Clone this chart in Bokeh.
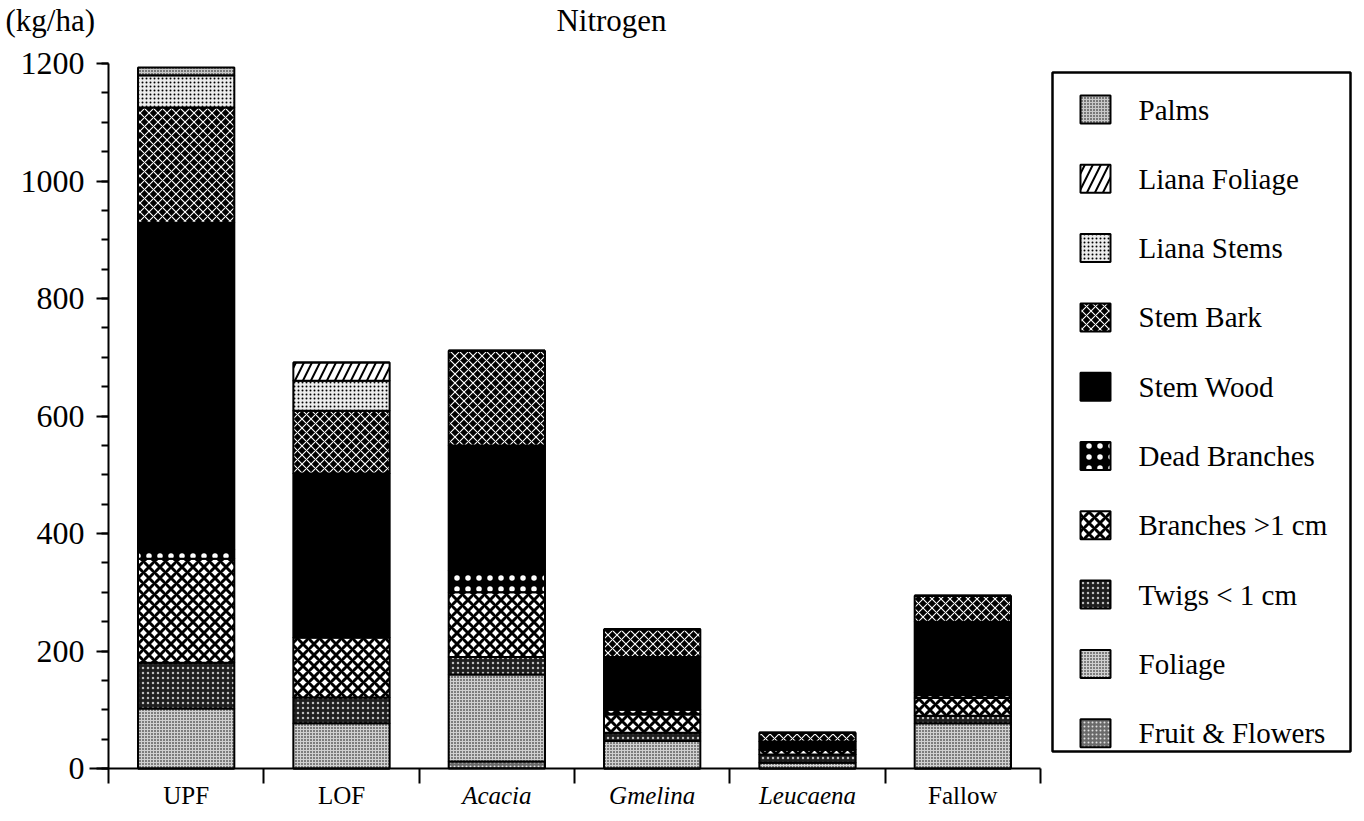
from bokeh.plotting import figure
from bokeh.models import (ColumnDataSource, Range1d, LinearAxis,
                          FixedTicker, SingleIntervalTicker)
from bokeh.layouts import row
from bokeh.core.properties import value
from bokeh.embed import file_html
from bokeh.resources import INLINE

# Nitrogen stocks (kg/ha) by component, per site
categories = ["UPF", "LOF", "Acacia", "Gmelina", "Leucaena", "Fallow"]
italic_names = ["Acacia", "Gmelina", "Leucaena"]

fruit_flowers  = [0,   0,   12,  0,  0,  0]
foliage        = [102, 77,  148, 47, 10, 77]
twigs          = [78,  44,  30,  14, 14, 13]
branches       = [177, 102, 110, 31, 8,  30]
dead_branches  = [16,  0,   37,  8,  0,  10]
stem_wood      = [556, 279, 213, 90, 14, 120]
stem_bark      = [196, 107, 161, 47, 15, 44]
liana_stems    = [55,  51,  0,   0,  0,  0]
liana_foliage  = [0,   31,  0,   0,  0,  0]
palms          = [13,  0,   0,   0,  0,  0]

y_max = 1200
y_step = 200

# stacking order, bottom to top
stack_keys = ["fruit", "foliage", "twigs", "branches", "dead", "wood",
              "bark", "lstems", "lfoliage", "palms"]
stack_names = ["Fruit & Flowers", "Foliage", "Twigs < 1 cm", "Branches >1 cm",
               "Dead Branches", "Stem Wood", "Stem Bark", "Liana Stems",
               "Liana Foliage", "Palms"]

# fill / hatch styling for each component (same order as stack_keys)
fills   = ["#6a6a6a", "#d0d0d0", "#1e1e1e", "#ffffff", "#000000", "#000000",
           "#000000", "#ececec", "#ffffff", "#c8c8c8"]
hatches = [".", ".", ".", "x", ".", " ", "x", ".", "/", "."]
hcolors = ["#e0e0e0", "#000000", "#bbbbbb", "#000000", "#ffffff", "#000000",
           "#ffffff", "#000000", "#000000", "#000000"]
hscales = [4, 3, 5, 11, 11, 1, 9, 4, 16, 3]
hweights = [1.4, 1.4, 1.0, 3.0, 1.5, 1, 1.1, 1.2, 2.0, 1.4]

n_cat = len(categories)
slot = [i + 0.5 for i in range(n_cat)]   # centre of each site's slot

src = ColumnDataSource(dict(
    xc=slot, fruit=fruit_flowers, foliage=foliage, twigs=twigs,
    branches=branches, dead=dead_branches, wood=stem_wood, bark=stem_bark,
    lstems=liana_stems, lfoliage=liana_foliage, palms=palms))

FONT = "Liberation Serif"

# canvas geometry (px): plot area spans x 108..1040, y 63 (top value) .. 768 (zero)
W, H = 1050, 815
X0, X1, YT, YB = 108, 1040, 63, 768
ux = (X1 - X0) / n_cat          # px per slot
uy = (YB - YT) / y_max          # px per kg/ha

p = figure(x_range=Range1d(-X0 / ux, n_cat + (W - X1) / ux),
           y_range=Range1d(-(H - YB) / uy, y_max + YT / uy),
           width=W, height=H, output_backend="svg", toolbar_location=None,
           x_axis_location=None, min_border=0)
p.outline_line_color = None
p.xgrid.visible = False
p.ygrid.visible = False
p.background_fill_color = "white"

p.vbar_stack(stack_keys, x="xc", width=0.62, source=src,
             fill_color=fills, hatch_pattern=hatches, hatch_color=hcolors,
             hatch_scale=hscales, hatch_weight=hweights,
             line_color="black", line_width=2)

# y axis, pinned at the left edge of the first slot
ya = p.yaxis[0]
ya.fixed_location = 0
ya.bounds = (0, y_max)
ya.ticker = SingleIntervalTicker(interval=y_step, num_minor_ticks=4)
ya.axis_line_width = 2
ya.major_tick_line_width = 2
ya.minor_tick_line_width = 2
ya.major_tick_out = 12
ya.major_tick_in = 0
ya.minor_tick_out = 7
ya.minor_tick_in = 0
ya.major_label_standoff = 12
ya.major_label_text_font = FONT
ya.major_label_text_font_size = "32px"
ya.major_label_text_color = "black"

# x axis at zero, ticks between the site groups
xa = LinearAxis(ticker=FixedTicker(ticks=list(range(n_cat + 1))),
                fixed_location=0, bounds=(-0.12, n_cat),
                axis_line_width=2, major_tick_line_width=2,
                major_tick_out=15, major_tick_in=0,
                minor_tick_out=0, minor_tick_in=0,
                major_label_text_font_size="0px",
                major_label_text_color=None)
p.add_layout(xa, "below")

# site names under the axis
lab_y = -27 / uy
lab_src = ColumnDataSource(dict(
    x=slot, y=[lab_y] * n_cat, name=categories,
    style=["italic" if c in italic_names else "normal" for c in categories]))
p.text(x="x", y="y", text="name", source=lab_src,
       text_font=value(FONT), text_font_size="25px", text_font_style="style",
       text_align="center", text_baseline="middle", text_color="black")

# heading and unit
head_y = y_max + (YT - 20) / uy
p.text(x=[(611 - X0) / ux], y=[head_y], text=["Nitrogen"],
       text_font=value(FONT), text_font_size="31px", text_align="center",
       text_baseline="middle", text_color="black")
p.text(x=[(5 - X0) / ux], y=[head_y], text=["(kg/ha)"],
       text_font=value(FONT), text_font_size="31px", text_align="left",
       text_baseline="middle", text_color="black")

# legend panel, items listed top to bottom (pixel coordinates, y downwards)
LW = 1364 - W
leg_names = stack_names[::-1]
n = len(leg_names)
step = 69.3
leg = figure(x_range=Range1d(0, LW), y_range=Range1d(H, 0),
             width=LW, height=H, output_backend="svg", toolbar_location=None,
             x_axis_location=None, y_axis_location=None, min_border=0)
leg.xgrid.visible = False
leg.ygrid.visible = False
leg.outline_line_color = None

leg.quad(left=[2], right=[300], top=[72], bottom=[751], fill_color=None,
         line_color="black", line_width=2.5)

lsrc = ColumnDataSource(dict(
    x=[45] * n, tx=[88] * n, y=[109 + i * step for i in range(n)],
    name=leg_names, fill=fills[::-1], hatch=hatches[::-1],
    hcol=hcolors[::-1], hscale=hscales[::-1], hweight=hweights[::-1]))
leg.rect(x="x", y="y", width=30, height=28, source=lsrc, fill_color="fill",
         hatch_pattern="hatch", hatch_color="hcol", hatch_scale="hscale",
         hatch_weight="hweight", line_color="black", line_width=2)
leg.text(x="tx", y="y", text="name", source=lsrc, text_font=value(FONT),
         text_font_size="29px", text_baseline="middle", text_color="black")

layout = row(p, leg)
open("out.html", "w").write(file_html(layout, INLINE))
